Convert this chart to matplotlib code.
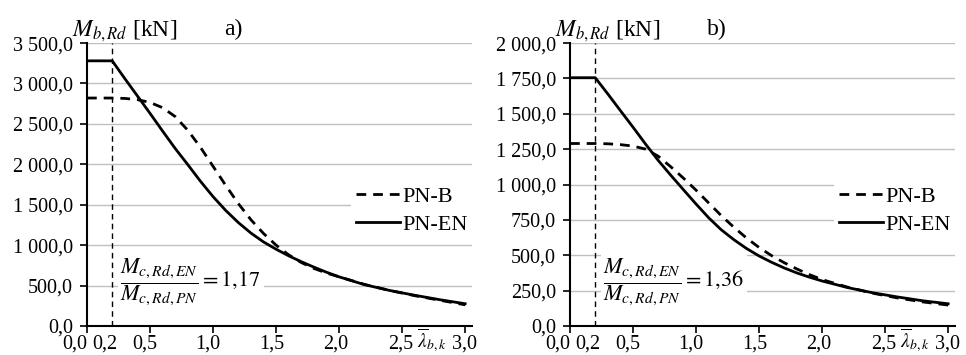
import matplotlib
matplotlib.use("Agg")
import matplotlib.pyplot as plt
import matplotlib.transforms as mtransforms
from matplotlib.ticker import FuncFormatter

plt.rcParams['font.family'] = ['Liberation Serif', 'DejaVu Serif']
plt.rcParams['mathtext.fontset'] = 'stix'

# smukłość względna
lam = [0.0, 0.2, 0.3, 0.4, 0.5, 0.6, 0.7, 0.8, 0.9, 1.0, 1.1, 1.2, 1.3, 1.4, 1.5,
       1.6, 1.7, 1.8, 1.9, 2.0, 2.2, 2.4, 2.6, 2.8, 3.0]

# a)
pnb_a = [2820, 2820, 2815, 2800, 2765, 2700, 2590, 2420, 2210, 1975, 1740, 1515, 1315,
         1145, 1000, 880, 785, 712, 655, 608, 515, 440, 375, 318, 262]
pnen_a = [3280, 3280, 3060, 2845, 2630, 2410, 2195, 1995, 1790, 1600, 1430, 1280, 1150,
          1040, 950, 868, 795, 728, 665, 608, 512, 440, 380, 325, 275]
# b)
pnb_b = [1290, 1290, 1288, 1282, 1272, 1250, 1200, 1125, 1045, 960, 870, 780, 698,
         622, 555, 497, 447, 403, 363, 328, 275, 232, 198, 170, 148]
pnen_b = [1755, 1755, 1640, 1522, 1405, 1285, 1170, 1065, 963, 862, 765, 680, 610,
          548, 495, 450, 410, 375, 345, 318, 272, 235, 205, 178, 157]

ratio_a = "1{,}17"
ratio_b = "1{,}36"
lam_lim = 0.2

xticks = [0.0, 0.5, 1.0, 1.5, 2.0, 2.5, 3.0]
xlabels_at = [0.0, 0.2, 0.5, 1.0, 1.5, 2.0, 2.5, 3.0]
# przesunięcie podpisów osi x [px]
xshift = [-12, -7, -5, -5, -4, -3, -1, -1]


def fmt_y(v, pos):
    s = "{:,.1f}".format(v)
    return s.replace(",", " ").replace(".", ",")


def fmt_x(v):
    return "{:.1f}".format(v).replace(".", ",")


fig = plt.figure(figsize=(9.66, 3.55), dpi=100)
ax_a = fig.add_axes([0.0901, 0.0817, 0.3986, 0.797])
ax_b = fig.add_axes([0.5901, 0.0817, 0.3986, 0.797])

panels = [
    (ax_a, pnb_a, pnen_a, 3500, 500, ratio_a, "a)"),
    (ax_b, pnb_b, pnen_b, 2000, 250, ratio_b, "b)"),
]

for ax, pnb, pnen, ymax, ystep, ratio, tag in panels:
    ax.plot(lam, pnb, color='black', lw=2.0, ls=(0, (3.5, 2.5)), label='PN-B', zorder=4)
    ax.plot(lam, pnen, color='black', lw=2.0, label='PN-EN', zorder=4)
    ax.axvline(lam_lim, color='black', lw=1.0, ls=(0, (4, 3)), zorder=5)

    ax.set_xlim(0, 3.055)
    ax.set_ylim(0, ymax)
    ax.set_yticks([i * ystep for i in range(int(ymax / ystep) + 1)])
    ax.yaxis.set_major_formatter(FuncFormatter(fmt_y))
    ax.set_xticks(xticks)
    ax.set_xticklabels([])

    trans = mtransforms.blended_transform_factory(ax.transData, ax.transAxes)
    for v, dx in zip(xlabels_at, xshift):
        off = mtransforms.ScaledTranslation(dx / 100, 0, fig.dpi_scale_trans)
        ax.text(v, -0.081, fmt_x(v), transform=trans + off, fontsize=14.5,
                ha='center', va='baseline')

    ax.grid(axis='y', color='#c0c0c0', lw=1.0, zorder=0)
    ax.set_axisbelow(True)
    for s in ['top', 'right']:
        ax.spines[s].set_visible(False)
    for s in ['left', 'bottom']:
        ax.spines[s].set_linewidth(1.5)
    ax.tick_params(axis='both', direction='out', length=5, width=1.2,
                   labelsize=14.5)
    ax.tick_params(axis='y', pad=5)

    leg = ax.legend(loc='upper right', bbox_to_anchor=(1.0, 0.51), borderaxespad=0,
                    frameon=True, facecolor='white', edgecolor='none', framealpha=1,
                    fontsize=16, handlelength=2.0, handletextpad=0.1,
                    labelspacing=0.35, borderpad=0.2)
    leg.set_zorder(3)

    ax.text(0.265, 0.155 * ymax,
            r"$\dfrac{M_{c,Rd,EN}}{M_{c,Rd,PN}} = " + ratio + "$",
            fontsize=16, va='center', ha='left', zorder=3,
            bbox=dict(facecolor='white', edgecolor='none', pad=2))

    ax.text(-0.04, 1.025, r"$M_{b,Rd}$ [kN]", transform=ax.transAxes,
            fontsize=17, ha='left', va='baseline')
    ax.text(0.38, 1.03, tag, transform=ax.transAxes, fontsize=17,
            ha='center', va='baseline')
    ax.text(2.735, -0.074, r"$\overline{\lambda}_{b,k}$", transform=trans,
            fontsize=14, ha='center', va='baseline')

fig.savefig("out.png", dpi=100)
